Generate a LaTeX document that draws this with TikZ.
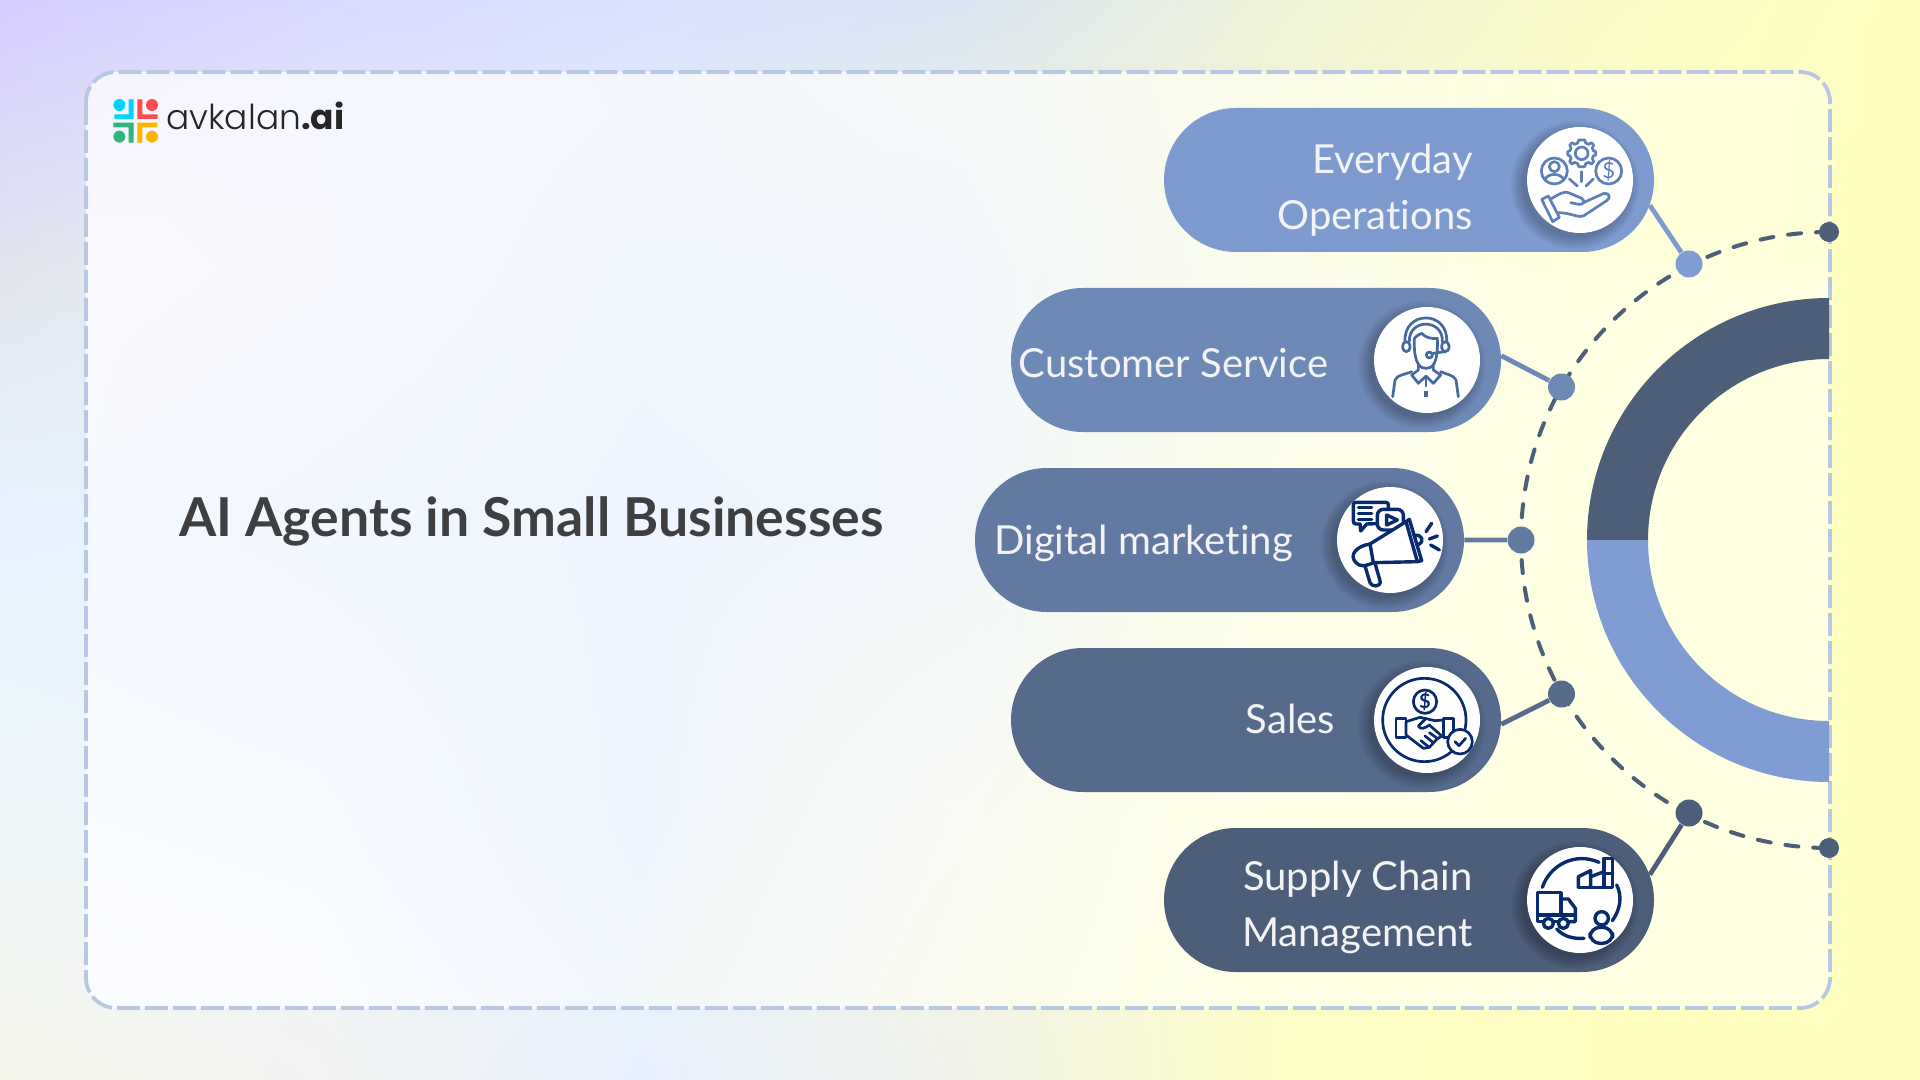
\documentclass[tikz,border=0pt]{standalone}
\usepackage{fontspec}
\setmainfont{Lato}[Ligatures=NoCommon]
\newfontfamily\titlefont{Lato}[BoldFont=* Bold]
\newfontfamily\logofont{Poppins Light}[BoldFont=Poppins Bold]
\usetikzlibrary{shapes.misc,calc,shadings}
\definecolor{ringdark}{HTML}{4D5E78}
\definecolor{ringlight}{HTML}{7F9DD2}
\definecolor{pilla}{HTML}{7D9BCE}
\definecolor{pillb}{HTML}{6D8AB6}
\definecolor{pillc}{HTML}{627AA2}
\definecolor{pilld}{HTML}{566A8C}
\definecolor{pille}{HTML}{4C5E7A}
\definecolor{framec}{HTML}{B8C8E2}
\definecolor{navy}{HTML}{0A2A6E}
\definecolor{iconblue}{HTML}{5F7FB8}
\definecolor{iconmid}{HTML}{44689F}
\definecolor{titlec}{HTML}{3F3F42}
\definecolor{pilltext}{HTML}{F2F3F5}
\definecolor{softband}{HTML}{FFFFF8}
\definecolor{lc}{HTML}{00D4FF}\definecolor{lr}{HTML}{FF4B4B}\definecolor{lg}{HTML}{2FB67C}\definecolor{ly}{HTML}{FFB400}
\newcommand\defrow[9]{\definecolor{#1#20}{HTML}{#3}\definecolor{#1#21}{HTML}{#4}\definecolor{#1#22}{HTML}{#5}\definecolor{#1#23}{HTML}{#6}\definecolor{#1#24}{HTML}{#7}\definecolor{#1#25}{HTML}{#8}\definecolor{#1#26}{HTML}{#9}}
\defrow{o}{0}{D5CEFF}{D9DAFF}{D9E3FD}{DAE6F3}{EEF2D9}{FAFAC8}{FFFFC0}
\defrow{o}{1}{E2E6EE}{E8EEF4}{E8F0F8}{F0F4E8}{F8F8D0}{FFFFC4}{FFFFC0}
\defrow{o}{2}{E6F3FF}{E8F3FF}{EAF3FC}{F2F6E8}{FCFCD0}{FFFFC4}{FFFFC0}
\defrow{o}{3}{EEF6FA}{EEF4FA}{ECF3FA}{F4F6E4}{FCFCCC}{FFFFC2}{FFFFC0}
\defrow{o}{4}{F5F6EA}{F2F3F2}{E6F0FD}{F0F2EA}{FDFDC8}{FFFFC2}{FFFFC0}
\defrow{i}{0}{F3F2FF}{F5F6FF}{F4F7FD}{F5F9F6}{FBFCE8}{FFFFDC}{FFFFD5}
\defrow{i}{1}{FBF9FE}{F6F8FE}{F0F6FE}{F1F7FC}{FBFCEA}{FFFFDB}{FFFFD5}
\defrow{i}{2}{F5F9FF}{F1F7FE}{EEF5FE}{F0F6FC}{FDFDE4}{FFFFDC}{FFFFD5}
\defrow{i}{3}{F8FBFF}{F6FAFF}{EEF5FE}{F8FAF4}{FFFFE0}{FFFFDC}{FFFFD5}
\defrow{i}{4}{FDFDFE}{FBFCFF}{F3F7FE}{FBFCEC}{FFFFDD}{FFFFDA}{FFFFD5}
\newcommand\meshpatches[1]{\foreach \c/\cn in {0/1,1/2,2/3,3/4,4/5,5/6}{\foreach \r/\rn in {0/1,1/2,2/3,3/4}{\shade[upper left=#1\r\c, upper right=#1\r\cn, lower left=#1\rn\c, lower right=#1\rn\cn] ({\c*320},{\r*270}) rectangle ({\cn*320+0.4},{\rn*270+0.4});}}}
\tikzset{
 pill/.style={rounded rectangle,rounded rectangle arc length=180,minimum width=245pt,minimum height=72pt,inner sep=0pt,draw=none,fill=#1},
 iconcirc/.style={circle,fill=white,minimum size=53pt,inner sep=0pt},
 bigdot/.style={circle,fill=#1,minimum size=13.5pt,inner sep=0pt},
 enddot/.style={circle,fill=ringdark,minimum size=10pt,inner sep=0pt},
 link/.style={line width=2.4pt,draw=#1},
 pilltxt/.style={text=pilltext,font=\fontsize{20}{24}\selectfont,inner sep=0pt},
 icon/.style={draw=#1,line width=1.7pt,line cap=round,line join=round},
 thinicon/.style={draw=#1,line width=1.35pt,line cap=round,line join=round},
}
\newcommand\circshadow[2]{\foreach \k in {0,...,8}{\fill[black,opacity=.026] ({#1-5},{#2+5}) circle[radius={52+\k*1.5}];}}
\begin{document}
\begin{tikzpicture}[x=0.5pt,y=-0.5pt]
\useasboundingbox (0,0) rectangle (1920,1080);
\meshpatches{o}
\begin{scope}
\clip[rounded corners=15pt] (86,72) rectangle (1830,1008);
\meshpatches{i}
\foreach \d in {0,8,...,48}{
\fill[softband,opacity=.07,shift={(\d,\d*0.5)}] (574,1060) .. controls (660,860) and (760,690) .. (1040,425) .. controls (1120,340) and (1250,265) .. (1400,262) -- (1900,262) -- (1900,1060) -- cycle;
}
\end{scope}
\draw[framec,line width=1.9pt,rounded corners=15pt,dash pattern=on 11.5pt off 2.5pt] (86,72) rectangle (1830,1008);

% ring
\fill[ringdark] (1829,298) arc[start angle=-90,end angle=-180,radius=242] -- (1648,540) arc[start angle=-180,end angle=-90,radius=181] -- cycle;
\fill[ringlight] (1587,540) arc[start angle=180,end angle=90,radius=242] -- (1829,721) arc[start angle=90,end angle=180,radius=181] -- cycle;
% dashed arc
\draw[ringdark,line width=2pt,line cap=round,dash pattern=on 6.5pt off 7.5pt] (1829,232) arc[start angle=-90,end angle=-270,radius=308];

% dots
\node[enddot] (endtop) at (1829,232) {};
\node[enddot] (endbot) at (1829,848) {};
\node[bigdot=ringlight] (dota) at (1689,264) {};
\node[bigdot=pillb] (dotb) at (1561.5,387) {};
\node[bigdot=pillc] (dotc) at (1521,540) {};
\node[bigdot=pilld] (dotd) at (1561.5,694) {};
\node[bigdot=pille] (dote) at (1689,813) {};

% pills
\node[pill=pilla] (pa) at (1409,180) {};
\node[pill=pillb] (pb) at (1256,360) {};
\node[pill=pillc,minimum width=244.5pt] (pc) at (1219.5,540) {};
\node[pill=pilld] (pd) at (1256,720) {};
\node[pill=pille] (pe) at (1409,900) {};
% connectors
\draw[link=pilla] (pa.-6.4) -- (dota);
\draw[link=pillb] (pb.1.2) -- (dotb);
\draw[link=pillc] (pc.0) -- (dotc);
\draw[link=pilld] (pd.-1.2) -- (dotd);
\draw[link=pille] (pe.6.4) -- (dote);

% circles
\circshadow{1580}{180}\node[iconcirc] (ca) at (1580,180) {};
\circshadow{1427}{360}\node[iconcirc] (cb) at (1427,360) {};
\circshadow{1390}{540}\node[iconcirc] (cc) at (1390,540) {};
\circshadow{1427}{720}\node[iconcirc] (cd) at (1427,720) {};
\circshadow{1580}{900}\node[iconcirc] (ce) at (1580,900) {};

% labels
\node[pilltxt,anchor=base east] (t1) at (1473,174) {Everyday};
\node[pilltxt,anchor=base east] (t2) at (1473,230) {Operations};
\node[pilltxt,anchor=base west] (t3) at (1018.5,378) {Customer Service};
\node[pilltxt,anchor=base west] (t4) at (994,554) {Digital marketing};
\node[pilltxt,anchor=base east] (t5) at (1335.5,733) {Sales};
\node[pilltxt,anchor=base east] (t6) at (1473,890) {Supply Chain};
\node[pilltxt,anchor=base east] (t7) at (1473,946) {Management};
\node[anchor=base west,inner sep=0pt,text=titlec,font=\titlefont\bfseries\fontsize{26.8}{30}\selectfont] (title) at (179,536) {AI Agents in Small Businesses};

% logo
\begin{scope}[shift={(90,70)},scale=1/3]
\fill[lc] (88,105) circle[radius=18];
\fill[lc] (116,88) -- (131,88) -- (131,147) -- (73,147) -- (73,133) -- (116,133) -- cycle;
\fill[lr] (186,105) circle[radius=18];
\fill[lr] (142,88) -- (157,88) -- (157,133) -- (203,133) -- (203,147) -- (142,147) -- cycle;
\fill[lg] (88,200) circle[radius=18];
\fill[lg] (70,158) -- (131,158) -- (131,218) -- (116,218) -- (116,172) -- (70,172) -- cycle;
\fill[ly] (186,200) circle[radius=18];
\fill[ly] (142,158) -- (202,158) -- (202,172) -- (157,172) -- (157,218) -- (142,218) -- cycle;
\end{scope}
\node[anchor=base west,inner sep=0pt,text=black!85,font=\logofont\fontsize{17.2}{20}\selectfont] (logo) at (166,130) {avkalan\textbf{.ai}};

% icon A: hand, gear, person, dollar
\begin{scope}[shift={(1500,110)},scale=1/3]
\begin{scope}[thinicon=iconblue]
\draw (245,130) circle[radius=19];
\draw (245,90) -- (254,90) -- (257,99) -- (266,103) -- (274,98) -- (281,105) -- (277,114) -- (280,122) -- (287,125) -- (287,135) -- (280,138) -- (277,146) -- (281,155) -- (274,162) -- (266,157) -- (257,161) -- (254,170) -- (236,170) -- (233,161) -- (224,157) -- (216,162) -- (209,155) -- (213,146) -- (210,138) -- (203,135) -- (203,125) -- (210,122) -- (213,114) -- (209,105) -- (216,98) -- (224,103) -- (233,99) -- (236,90) -- cycle;
\draw (163,183) circle[radius=39];
\draw (163,170) circle[radius=15];
\draw (135,210) .. controls (140,188) and (186,188) .. (191,210);
\draw (326,183) circle[radius=39];
\node[text=iconblue,inner sep=0pt,font=\fontsize{11}{11}\selectfont] (dolA) at (326,183) {\$};
\draw (245,185) -- (245,215);
\draw (208,207) -- (232,228);
\draw (280,207) -- (258,228);
\draw (125,268) -- (145,258) -- (178,322) -- (158,335) -- cycle;
\draw (150,268) .. controls (175,255) and (190,240) .. (210,250) -- (245,265) .. controls (258,275) and (250,285) .. (235,283) -- (212,278);
\draw (250,278) -- (312,250) .. controls (330,248) and (332,265) .. (320,272) -- (250,318) .. controls (235,325) and (215,308) .. (172,308);
\end{scope}
\end{scope}

% icon B: agent
\begin{scope}[shift={(1350,300)},scale=1/3]
\begin{scope}[thinicon=iconmid]
\draw (165,125) .. controls (160,30) and (295,30) .. (290,125);
\draw (178,125) .. controls (175,55) and (280,55) .. (277,125);
\draw[rounded corners=2pt] (158,125) rectangle (180,155);
\draw[rounded corners=2pt] (275,125) rectangle (297,155);
\draw (193,115) .. controls (190,200) and (215,205) .. (228,205) .. controls (245,205) and (265,195) .. (262,115) .. controls (245,118) and (225,112) .. (215,100) .. controls (205,105) and (198,108) .. (193,115);
\draw (285,155) -- (250,160);
\draw (238,165) circle[radius=9];
\draw (205,195) -- (205,210) -- (185,225) -- (205,250) -- (228,228) -- (250,250) -- (272,225) -- (250,210) -- (250,195);
\draw (128,290) -- (135,240) .. controls (140,225) and (170,222) .. (185,215);
\draw (325,290) -- (318,240) .. controls (313,225) and (285,222) .. (272,215);
\draw (228,235) -- (228,258);
\draw[line width=2pt,line cap=butt] (228,272) -- (228,290);
\end{scope}
\end{scope}

% icon C: megaphone
\begin{scope}[shift={(1320,470)},scale=1/3]
\begin{scope}[icon=navy]
\draw[fill=white] (108,97) -- (197,97) .. controls (203,97) and (205,100) .. (205,105) -- (205,152) .. controls (205,158) and (203,160) .. (197,160) -- (140,162) -- (122,183) -- (120,162) -- (108,162) .. controls (102,162) and (100,158) .. (100,152) -- (100,105) .. controls (100,100) and (102,97) .. (108,97) -- cycle;
\draw (115,112) -- (155,112) (115,130) -- (155,130) (115,148) -- (155,148);
\draw[fill=white,rounded corners=3pt] (172,118) rectangle (250,180);
\draw (200,135) -- (232,150) -- (200,165) -- cycle;
\draw[fill=white] (150,222) -- (258,155) -- (292,275) -- (160,278) -- cycle;
\draw (258,155) -- (268,148) -- (305,272) -- (292,275);
\draw (150,222) .. controls (110,228) and (85,255) .. (108,278) .. controls (118,290) and (135,290) .. (160,278);
\draw (135,288) -- (150,338) .. controls (155,352) and (185,352) .. (180,332) -- (165,280);
\draw (282,197) .. controls (305,190) and (318,215) .. (292,225);
\draw (318,185) -- (335,160) (328,207) -- (352,198) (332,225) -- (358,240);
\end{scope}
\end{scope}

% icon D: handshake
\begin{scope}[shift={(1320,470)},scale=1/3]
\begin{scope}[thinicon=navy]
\draw (313,750) circle[radius=125];
\draw (315,695) circle[radius=35];
\node[text=navy,inner sep=0pt,font=\fontsize{10}{10}\selectfont\bfseries] (dolD) at (315,695) {\$};
\draw[fill=white] (228,745) rectangle (258,803);
\draw[fill=white] (370,745) rectangle (400,803);
\draw[fill=white] (258,755) -- (300,742) -- (345,752) -- (370,750) -- (370,795) -- (350,808) -- (328,832) -- (310,835) -- (258,795) -- cycle;
\draw (318,745) -- (295,768) .. controls (300,780) and (315,775) .. (328,765) -- (362,795);
\draw (352,805) -- (328,788) (340,818) -- (315,798) (325,830) -- (303,812);
\draw[fill=white] (420,815) circle[radius=37];
\draw (405,815) -- (417,827) -- (437,805);
\end{scope}
\end{scope}

% icon E: supply chain
\begin{scope}[shift={(1500,830)},scale=1/3]
\begin{scope}[icon=navy]
\draw (127,172) .. controls (150,105) and (225,65) .. (297,97);
\draw (350,165) .. controls (368,200) and (360,240) .. (337,272);
\draw (170,297) .. controls (190,318) and (215,327) .. (252,325);
\draw (112,188) rectangle (183,255);
\draw (183,207) -- (205,207) -- (226,235) -- (226,275) -- (208,275);
\draw (112,255) -- (112,275) -- (128,275);
\draw (162,275) -- (173,275);
\draw (183,255) -- (226,255);
\draw (145,280) circle[radius=15];
\draw (190,280) circle[radius=15];
\draw (235,172) -- (235,140) -- (272,122) -- (272,172);
\draw (235,172) -- (337,172) -- (337,85) -- (312,85) -- (312,172);
\draw (272,140) -- (312,125);
\draw (312,130) -- (337,130);
\draw (305,265) circle[radius=20];
\draw[rounded corners=5pt] (270,292) rectangle (338,340);
\end{scope}
\end{scope}
\end{tikzpicture}
\end{document}
